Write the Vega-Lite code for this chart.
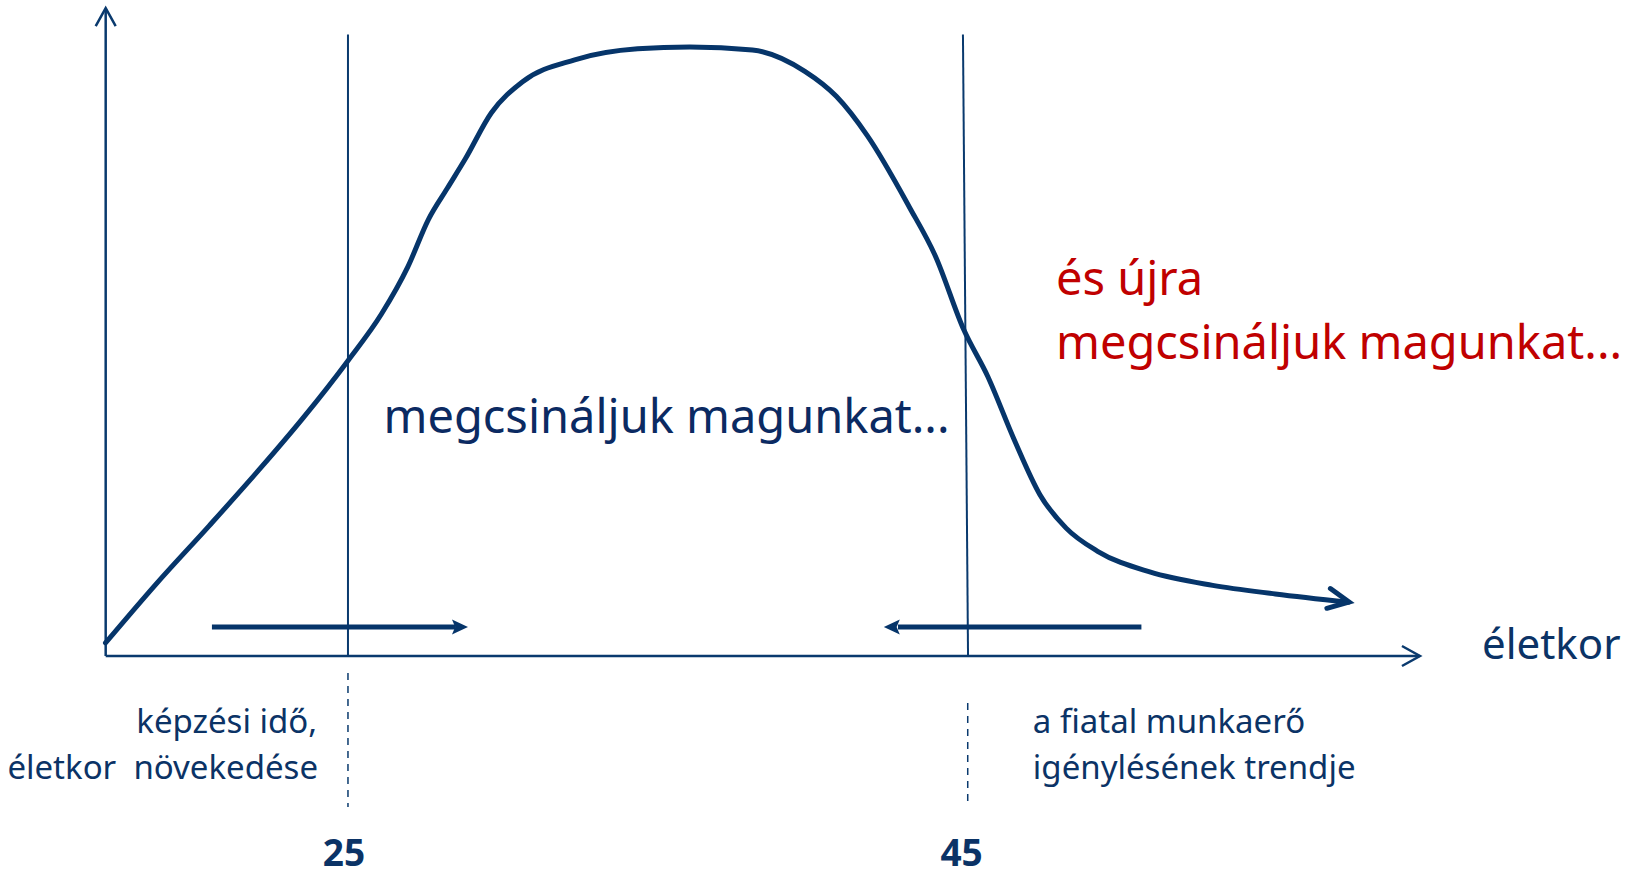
{
  "$schema": "https://vega.github.io/schema/vega-lite/v6.json",
  "width": 1639,
  "height": 876,
  "autosize": {"type": "none"},
  "padding": 0,
  "background": "white",
  "config": {"view": {"stroke": null}},
  "datasets": {
    "curve": [
      {"x": 17.14, "y": 2.15}, {"x": 18.80, "y": 11.94}, {"x": 20.50, "y": 21.38},
      {"x": 22.19, "y": 31.0}, {"x": 23.54, "y": 39.06}, {"x": 25.0, "y": 48.5},
      {"x": 26.09, "y": 56.2}, {"x": 26.94, "y": 63.9}, {"x": 27.61, "y": 71.7},
      {"x": 28.22, "y": 76.8}, {"x": 28.80, "y": 81.6}, {"x": 29.65, "y": 89.2},
      {"x": 30.66, "y": 94.3}, {"x": 32.35, "y": 97.9}, {"x": 34.39, "y": 99.7},
      {"x": 36.08, "y": 100}, {"x": 38.11, "y": 99.5}, {"x": 39.81, "y": 96.0},
      {"x": 40.83, "y": 91.9}, {"x": 41.84, "y": 85.4}, {"x": 43.20, "y": 73.7},
      {"x": 44.04, "y": 65.7}, {"x": 44.96, "y": 53.6}, {"x": 45.74, "y": 45.9},
      {"x": 46.59, "y": 35.6}, {"x": 47.43, "y": 26.5}, {"x": 48.28, "y": 21.0},
      {"x": 49.30, "y": 17.2}, {"x": 50.99, "y": 13.8}, {"x": 53.03, "y": 11.6},
      {"x": 55.06, "y": 10.2}, {"x": 57.43, "y": 8.85}
    ],
    "segments": [
      {"id": "yaxis", "kind": "axis", "x": 17.146, "y": 0, "x2": 17.146, "y2": 106.3},
      {"id": "xaxis", "kind": "axis", "x": 17.146, "y": 0, "x2": 59.74, "y2": 0},
      {"id": "g25", "kind": "guide", "x": 25.0, "y": 102.05, "x2": 25.0, "y2": 0},
      {"id": "g45", "kind": "guide", "x": 44.935, "y": 102.05, "x2": 45.1, "y2": 0},
      {"id": "d25", "kind": "dash", "x": 25.0, "y": -2.79, "x2": 25.0, "y2": -24.79},
      {"id": "d45", "kind": "dash", "x": 45.09, "y": -7.72, "x2": 45.09, "y2": -24.79},
      {"id": "arrR", "kind": "arrow", "x": 20.59, "y": 4.76, "x2": 28.47, "y2": 4.76},
      {"id": "arrL", "kind": "arrow", "x": 50.72, "y": 4.76, "x2": 42.83, "y2": 4.76}
    ],
    "heads": [
      {"id": "yaxis", "x": 17.146, "y": 106.4},
      {"id": "xaxis", "x": 59.75, "y": 0},
      {"id": "arrR", "x": 28.89, "y": 4.76},
      {"id": "arrL", "x": 42.37, "y": 4.76},
      {"id": "curve", "x": 57.45, "y": 8.87}
    ],
    "labels": [
      {"id": "main", "text": "megcsináljuk magunkat...", "x": 26.15, "y": 36.6},
      {"id": "red", "text": "és újra", "x": 47.95, "y": 59.28},
      {"id": "red", "text": "megcsináljuk magunkat...", "x": 47.95, "y": 48.83},
      {"id": "axis", "text": "életkor", "x": 61.76, "y": -0.49},
      {"id": "left", "text": "képzési idő,", "x": 24.0, "y": -12.64},
      {"id": "left", "text": "életkor\u00a0 növekedése", "x": 24.03, "y": -20.2},
      {"id": "right", "text": "a fiatal munkaerő", "x": 47.2, "y": -12.64},
      {"id": "right", "text": "igénylésének trendje", "x": 47.2, "y": -20.2},
      {"id": "num", "text": "25", "x": 24.87, "y": -34.5},
      {"id": "num", "text": "45", "x": 44.89, "y": -34.5}
    ]
  },
  "encoding": {
    "x": {"field": "x", "type": "quantitative", "scale": {"domain": [13.72, 66.85], "nice": false, "zero": false}, "axis": null},
    "y": {"field": "y", "type": "quantitative", "scale": {"domain": [-36.12, 107.72], "nice": false, "zero": false}, "axis": null}
  },
  "layer": [
    {
      "data": {"name": "segments"},
      "transform": [{"filter": "datum.kind == 'axis'"}],
      "mark": {"type": "rule", "color": "#0A3A6E", "strokeWidth": 2.5},
      "encoding": {"x2": {"field": "x2"}, "y2": {"field": "y2"}}
    },
    {
      "data": {"name": "segments"},
      "transform": [{"filter": "datum.kind == 'guide'"}],
      "mark": {"type": "rule", "color": "#0A3A6E", "strokeWidth": 2},
      "encoding": {"x2": {"field": "x2"}, "y2": {"field": "y2"}}
    },
    {
      "data": {"name": "segments"},
      "transform": [{"filter": "datum.kind == 'dash'"}],
      "mark": {"type": "rule", "color": "#0A3A6E", "strokeWidth": 1.5, "strokeDash": [7, 6]},
      "encoding": {"x2": {"field": "x2"}, "y2": {"field": "y2"}}
    },
    {
      "data": {"name": "segments"},
      "transform": [{"filter": "datum.kind == 'arrow'"}],
      "mark": {"type": "rule", "color": "#06356A", "strokeWidth": 5},
      "encoding": {"x2": {"field": "x2"}, "y2": {"field": "y2"}}
    },
    {
      "data": {"name": "curve"},
      "mark": {"type": "line", "color": "#06356A", "strokeWidth": 5, "interpolate": "monotone", "strokeCap": "round"},
      "encoding": {}
    },
    {
      "data": {"name": "heads"},
      "transform": [{"filter": "datum.id == 'yaxis'"}],
      "mark": {"type": "point", "shape": "M-1,1.8L0,0L1,1.8", "size": 400, "filled": false, "color": "#0A3A6E", "strokeWidth": 2.5, "opacity": 1}
    },
    {
      "data": {"name": "heads"},
      "transform": [{"filter": "datum.id == 'xaxis'"}],
      "mark": {"type": "point", "shape": "M-1.8,-1L0,0L-1.8,1", "size": 400, "filled": false, "color": "#0A3A6E", "strokeWidth": 2.5, "opacity": 1}
    },
    {
      "data": {"name": "heads"},
      "transform": [{"filter": "datum.id == 'arrR'"}],
      "mark": {"type": "point", "shape": "M0,0L-2,-0.94L-1.6,0L-2,0.94Z", "size": 256, "filled": true, "color": "#06356A", "opacity": 1}
    },
    {
      "data": {"name": "heads"},
      "transform": [{"filter": "datum.id == 'arrL'"}],
      "mark": {"type": "point", "shape": "M0,0L2,-0.94L1.6,0L2,0.94Z", "size": 256, "filled": true, "color": "#06356A", "opacity": 1}
    },
    {
      "data": {"name": "heads"},
      "transform": [{"filter": "datum.id == 'curve'"}],
      "mark": {"type": "point", "shape": "M-2,-0.97L0,0L-2,0.97", "size": 428, "angle": 10, "filled": false, "color": "#06356A", "strokeWidth": 5, "strokeCap": "round", "strokeJoin": "miter", "opacity": 1}
    },
    {
      "data": {"name": "labels"},
      "transform": [{"filter": "datum.id == 'main'"}],
      "mark": {"type": "text", "font": "Noto Sans", "fontSize": 47, "align": "left", "baseline": "alphabetic", "color": "#0B2A62"},
      "encoding": {"text": {"field": "text"}}
    },
    {
      "data": {"name": "labels"},
      "transform": [{"filter": "datum.id == 'red'"}],
      "mark": {"type": "text", "font": "Noto Sans", "fontSize": 47, "align": "left", "baseline": "alphabetic", "color": "#C00000"},
      "encoding": {"text": {"field": "text"}}
    },
    {
      "data": {"name": "labels"},
      "transform": [{"filter": "datum.id == 'axis'"}],
      "mark": {"type": "text", "font": "Noto Sans", "fontSize": 42, "align": "left", "baseline": "alphabetic", "color": "#0B3366"},
      "encoding": {"text": {"field": "text"}}
    },
    {
      "data": {"name": "labels"},
      "transform": [{"filter": "datum.id == 'left'"}],
      "mark": {"type": "text", "font": "Noto Sans", "fontSize": 33, "align": "right", "baseline": "alphabetic", "color": "#0B3366"},
      "encoding": {"text": {"field": "text"}}
    },
    {
      "data": {"name": "labels"},
      "transform": [{"filter": "datum.id == 'right'"}],
      "mark": {"type": "text", "font": "Noto Sans", "fontSize": 33, "align": "left", "baseline": "alphabetic", "color": "#0B3366"},
      "encoding": {"text": {"field": "text"}}
    },
    {
      "data": {"name": "labels"},
      "transform": [{"filter": "datum.id == 'num'"}],
      "mark": {"type": "text", "font": "Noto Sans", "fontSize": 37, "fontWeight": "bold", "align": "center", "baseline": "alphabetic", "color": "#0B3366"},
      "encoding": {"text": {"field": "text"}}
    }
  ]
}
